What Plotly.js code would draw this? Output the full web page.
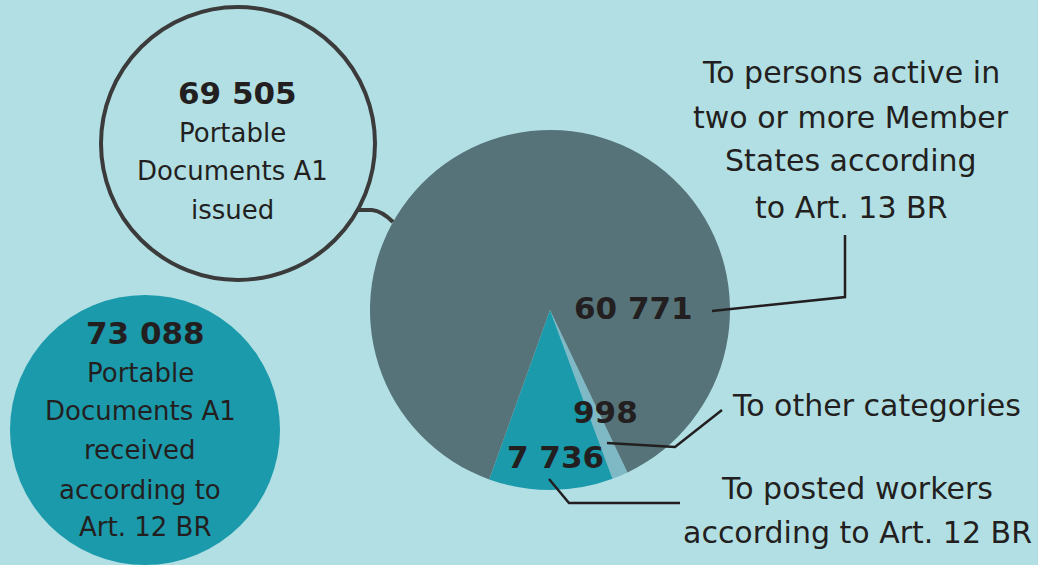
<!DOCTYPE html>
<html>
<head>
<meta charset="utf-8">
<script src="https://cdn.plot.ly/plotly-3.0.1.min.js"></script>
<style>
  html, body { margin: 0; padding: 0; background: #b2dfe4; }
  #chart { width: 1038px; height: 565px; }
</style>
</head>
<body>
<div id="chart"></div>
<script>
// ---- data ----
const sliceLabels = ["To other categories", "To posted workers according to Art. 12 BR", "To persons active in two or more Member States according to Art. 13 BR"];
const sliceValues = [998, 7736, 60771];
const sliceColors = ["#80b9c6", "#1b9aab", "#567379"];
const issuedTotal = sliceValues.reduce((a, b) => a + b, 0);   // 69 505
const receivedTotal = 73088;

// ---- helpers ----
const W = 1038, H = 565;
const px = x => x / W;
const py = y => 1 - y / H;
const fmt = n => String(n).replace(/\B(?=(\d{3})+(?!\d))/g, " ");
const FONT = "DejaVu Sans, sans-serif";
const TXT = "#231f20";

function ann(text, x, y, size, bold, anchor) {
  return {
    text: bold ? "<b>" + text + "</b>" : text,
    x: px(x), y: py(y), xref: "paper", yref: "paper",
    xanchor: anchor || "center", yanchor: "middle",
    showarrow: false,
    font: { family: FONT, size: size, color: TXT }
  };
}

const annotations = [
  // issued circle
  ann(fmt(issuedTotal), 237, 93, 31, true),
  ann("Portable", 232, 133, 26),
  ann("Documents A1", 232, 171, 26),
  ann("issued", 232, 210, 26),
  // received circle
  ann(fmt(receivedTotal), 145, 333, 31, true),
  ann("Portable", 140, 373, 26),
  ann("Documents A1", 140, 411, 26),
  ann("received", 140, 450, 26),
  ann("according to", 140, 490, 26),
  ann("Art. 12 BR", 145, 527, 26),
  // slice values
  ann(fmt(sliceValues[2]), 633, 308, 31, true),
  ann(fmt(sliceValues[0]), 605, 412, 31, true),
  ann(fmt(sliceValues[1]), 555, 457, 31, true),
  // right labels
  ann("To persons active in", 851, 72, 30),
  ann("two or more Member", 851, 117, 30),
  ann("States according", 851, 161, 30),
  ann("to Art. 13 BR", 851, 207, 30),
  ann("To other categories", 876, 405, 30),
  ann("To posted workers", 857, 489, 30),
  ann("according to Art. 12 BR", 857, 532, 30)
];

function line(points, color, width) {
  let d = "M" + points.map(p => px(p[0]) + "," + py(p[1])).join(" L");
  return { type: "path", xref: "paper", yref: "paper", path: d, line: { color: color, width: width } };
}

const shapes = [
  // received circle (filled)
  { type: "circle", xref: "paper", yref: "paper", layer: "below",
    x0: px(10), x1: px(280), y0: py(565), y1: py(295),
    fillcolor: "#1b9aab", line: { width: 0 } },
  // issued circle (outlined)
  { type: "circle", xref: "paper", yref: "paper", layer: "below",
    x0: px(101), x1: px(375), y0: py(280), y1: py(7),
    fillcolor: "rgba(0,0,0,0)", line: { color: "#3b3b3b", width: 4 } },
  // curved connector from issued circle to pie
  { type: "path", xref: "paper", yref: "paper",
    path: "M" + px(358) + "," + py(210) + " L" + px(372) + "," + py(210) +
          " Q" + px(382) + "," + py(211) + " " + px(393) + "," + py(222),
    line: { color: "#3b3b3b", width: 4 } },
  // leader lines
  line([[712, 311], [845, 297], [845, 235]], TXT, 2.5),
  line([[607, 443], [675, 447], [722, 410]], TXT, 2.5),
  line([[549, 479], [569, 503], [680, 503]], TXT, 2.5)
];

const data = [{
  type: "pie",
  labels: sliceLabels,
  values: sliceValues,
  sort: false,
  direction: "clockwise",
  rotation: 154.5,
  marker: { colors: sliceColors, line: { width: 0 } },
  textinfo: "none",
  hoverinfo: "skip",
  showlegend: false,
  domain: { x: [px(370), px(730)], y: [py(490), py(130)] }
}];

const layout = {
  width: W, height: H,
  margin: { l: 0, r: 0, t: 0, b: 0 },
  paper_bgcolor: "#b2dfe4",
  plot_bgcolor: "#b2dfe4",
  showlegend: false,
  annotations: annotations,
  shapes: shapes
};

Plotly.newPlot("chart", data, layout, { staticPlot: true, displayModeBar: false });
</script>
</body>
</html>
